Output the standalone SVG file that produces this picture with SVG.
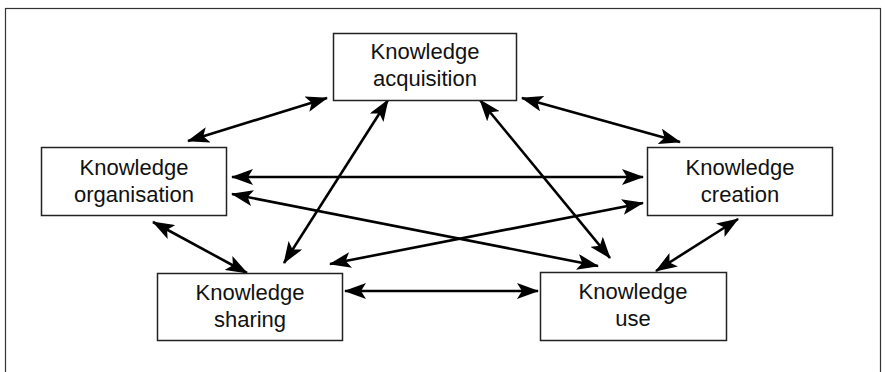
<svg xmlns="http://www.w3.org/2000/svg" width="885" height="372" viewBox="0 0 885 372">
<style>
.frame{fill:#fff;stroke:#333;stroke-width:1.2}
.box{fill:#fff;stroke:#222;stroke-width:1.5}
.lbl{font-family:"Liberation Sans",Arial,sans-serif;font-size:22px;fill:#111;text-anchor:middle}
.c{stroke:#000;stroke-width:2.6;fill:none;marker-start:url(#ah);marker-end:url(#ah)}
</style>
<defs>
<marker id="ah" viewBox="0 0 22 16" refX="21" refY="8" markerWidth="22" markerHeight="16" markerUnits="userSpaceOnUse" orient="auto-start-reverse">
<path d="M0,0 L22,8 L0,16 L5,8 Z" fill="#000"/>
</marker>
</defs>
<rect class="frame" x="5.5" y="8.5" width="875" height="380"/>
<g id="connectors">
<line class="c" x1="188" y1="141" x2="327" y2="98"/>
<line class="c" x1="522" y1="98" x2="680" y2="142"/>
<line class="c" x1="232" y1="177" x2="643" y2="177"/>
<line class="c" x1="232" y1="194" x2="598" y2="266"/>
<line class="c" x1="643" y1="203" x2="330" y2="264"/>
<line class="c" x1="153" y1="222" x2="247" y2="273"/>
<line class="c" x1="388" y1="100" x2="284" y2="263"/>
<line class="c" x1="480" y1="100" x2="610" y2="258"/>
<line class="c" x1="738" y1="219" x2="656" y2="271"/>
<line class="c" x1="345" y1="291" x2="538" y2="291"/>
</g>
<g id="acquisition">
<rect class="box" x="333.5" y="33.5" width="183" height="67"/>
<text class="lbl" x="425" y="59">Knowledge</text>
<text class="lbl" x="425" y="86">acquisition</text>
</g>
<g id="organisation">
<rect class="box" x="41.5" y="147.5" width="185" height="68"/>
<text class="lbl" x="134" y="175">Knowledge</text>
<text class="lbl" x="134" y="202">organisation</text>
</g>
<g id="creation">
<rect class="box" x="647.5" y="147.5" width="185" height="68"/>
<text class="lbl" x="740" y="175">Knowledge</text>
<text class="lbl" x="740" y="202">creation</text>
</g>
<g id="sharing">
<rect class="box" x="157.5" y="273.5" width="185" height="67"/>
<text class="lbl" x="250" y="300">Knowledge</text>
<text class="lbl" x="250" y="327">sharing</text>
</g>
<g id="use">
<rect class="box" x="540.5" y="272.5" width="186" height="68"/>
<text class="lbl" x="633" y="299">Knowledge</text>
<text class="lbl" x="633" y="326">use</text>
</g>
</svg>
